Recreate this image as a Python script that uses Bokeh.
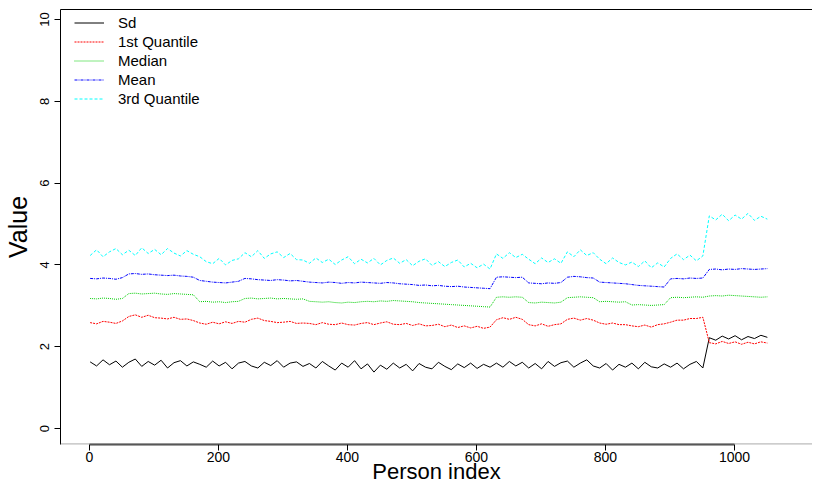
from bokeh.plotting import figure
from bokeh.models import Range1d, Span, Legend, LegendItem, FixedTicker, LinearAxis
from bokeh.embed import file_html
from bokeh.resources import INLINE

# Person index (sampled every 10 persons)
person = list(range(1, 1052, 10))

sd = [1.63, 1.53, 1.68, 1.56, 1.65, 1.50,
      1.62, 1.70, 1.52, 1.64, 1.55, 1.67, 1.48, 1.61, 1.66, 1.53, 1.63,
      1.57, 1.50, 1.65, 1.53, 1.62, 1.46, 1.60,
      1.64, 1.53, 1.48, 1.62, 1.54, 1.66, 1.50, 1.60, 1.63, 1.52,
      1.59, 1.48, 1.64, 1.53, 1.43, 1.60, 1.50, 1.66, 1.46, 1.58,
      1.38, 1.55, 1.45, 1.60, 1.48, 1.57, 1.41, 1.59, 1.50, 1.46,
      1.62, 1.52, 1.44, 1.58, 1.49, 1.60, 1.47, 1.57, 1.50,
      1.60, 1.50, 1.64, 1.53, 1.62,
      1.48, 1.59, 1.46, 1.64, 1.52, 1.61,
      1.65, 1.50, 1.60, 1.68, 1.53,
      1.48, 1.59, 1.43, 1.57, 1.50,
      1.60, 1.46, 1.62, 1.51, 1.48, 1.58,
      1.50, 1.60, 1.46, 1.57, 1.64, 1.48,
      2.22, 2.16, 2.26, 2.19, 2.27, 2.17, 2.25, 2.20, 2.28, 2.23]

q1 = [2.59, 2.56, 2.62, 2.60, 2.57, 2.63,
      2.74, 2.78, 2.72, 2.77, 2.71, 2.70, 2.68, 2.72, 2.67, 2.68, 2.64,
      2.58, 2.55, 2.60, 2.56, 2.61, 2.57, 2.62,
      2.60, 2.67, 2.70, 2.64, 2.62, 2.59, 2.60, 2.62, 2.57, 2.58,
      2.57, 2.54, 2.59, 2.55, 2.54, 2.58, 2.54, 2.53, 2.57, 2.59,
      2.54, 2.58, 2.61, 2.55, 2.54, 2.57, 2.52, 2.56, 2.51, 2.52,
      2.55, 2.49, 2.53, 2.47, 2.51, 2.46, 2.50, 2.45, 2.48,
      2.66, 2.71, 2.67, 2.72, 2.67,
      2.54, 2.51, 2.56, 2.50, 2.54, 2.56,
      2.67, 2.70, 2.65, 2.69, 2.65,
      2.58, 2.55, 2.58, 2.54, 2.54,
      2.51, 2.49, 2.53, 2.48, 2.54, 2.56,
      2.60, 2.65, 2.65, 2.69, 2.69, 2.72,
      2.10, 2.07, 2.13, 2.08, 2.12, 2.06, 2.11, 2.07, 2.12, 2.09]

median = [3.18, 3.17, 3.19, 3.18, 3.16, 3.18,
          3.30, 3.31, 3.29, 3.30, 3.31, 3.29, 3.28, 3.30, 3.29, 3.28, 3.27,
          3.10, 3.11, 3.09, 3.10, 3.08, 3.10, 3.11,
          3.18, 3.19, 3.17, 3.18, 3.19, 3.17, 3.18, 3.17, 3.16, 3.17,
          3.11, 3.10, 3.09, 3.10, 3.08, 3.07, 3.09, 3.08, 3.10, 3.11,
          3.10, 3.12, 3.11, 3.13, 3.12, 3.11, 3.10, 3.08, 3.07, 3.06,
          3.05, 3.04, 3.03, 3.02, 3.01, 3.00, 2.99, 2.98, 2.97,
          3.21, 3.22, 3.21, 3.22, 3.21,
          3.08, 3.07, 3.09, 3.08, 3.07, 3.09,
          3.20, 3.21, 3.22, 3.21, 3.20,
          3.10, 3.11, 3.10, 3.09, 3.10,
          3.02, 3.03, 3.02, 3.01, 3.02, 3.03,
          3.20, 3.21, 3.20, 3.21, 3.22, 3.21,
          3.24, 3.25, 3.24, 3.26, 3.25, 3.24, 3.23, 3.22, 3.21, 3.22]

mean = [3.67, 3.66, 3.68, 3.67, 3.65, 3.69,
        3.78, 3.79, 3.77, 3.78, 3.76, 3.75, 3.74, 3.75, 3.73, 3.72, 3.70,
        3.62, 3.60, 3.58, 3.57, 3.56, 3.58, 3.60,
        3.67, 3.66, 3.64, 3.63, 3.62, 3.64, 3.63, 3.61, 3.62, 3.60,
        3.58, 3.57, 3.56, 3.58, 3.57, 3.55, 3.57, 3.56, 3.58, 3.57,
        3.56, 3.55, 3.57, 3.56, 3.54, 3.53, 3.52, 3.50, 3.51, 3.49,
        3.50, 3.48, 3.47, 3.48, 3.46, 3.45, 3.44, 3.43, 3.42,
        3.70, 3.71, 3.70, 3.69, 3.70,
        3.56, 3.55, 3.54, 3.56, 3.55, 3.57,
        3.70, 3.72, 3.71, 3.69, 3.68,
        3.58, 3.57, 3.56, 3.55, 3.54,
        3.52, 3.50, 3.49, 3.48, 3.47, 3.46,
        3.66, 3.67, 3.66, 3.68, 3.67, 3.68,
        3.89, 3.90, 3.88, 3.90, 3.89, 3.91, 3.90, 3.89, 3.90, 3.91]

q3 = [4.23, 4.37, 4.20, 4.32, 4.40, 4.25,
      4.36, 4.23, 4.42, 4.28, 4.38, 4.25, 4.40, 4.29, 4.22, 4.35, 4.26,
      4.20, 4.08, 4.03, 4.16, 4.00, 4.11, 4.15,
      4.30, 4.20, 4.35, 4.16, 4.27, 4.32, 4.18, 4.28, 4.13, 4.12,
      4.04, 4.17, 4.06, 4.14, 4.01, 4.12, 4.20, 4.03, 4.14, 4.05,
      4.16, 4.00, 4.11, 4.17, 4.04, 4.13, 3.98, 4.09, 4.15, 3.99,
      4.08, 3.96, 4.06, 4.12, 3.95, 4.04, 3.93, 4.02, 3.90,
      4.27, 4.16, 4.30, 4.18, 4.26,
      4.14, 4.03, 4.17, 4.06, 4.15, 4.04,
      4.32, 4.20, 4.37, 4.23, 4.30,
      4.14, 4.03, 4.17, 4.06, 4.00,
      4.07, 3.96, 4.10, 3.93, 4.05, 3.95,
      4.16, 4.27, 4.13, 4.24, 4.10, 4.22,
      5.20, 5.10, 5.24, 5.08, 5.22, 5.12, 5.26, 5.09, 5.19, 5.12]

series_names = ["Sd", "1st Quantile", "Median", "Mean", "3rd Quantile"]
x_ticks = [0, 200, 400, 600, 800, 1000]
y_ticks = [0, 2, 4, 6, 8, 10]

FONT = "Liberation Sans"

p = figure(frame_width=752, frame_height=435, output_backend="svg",
           toolbar_location=None, min_border_left=49, min_border_right=0,
           min_border_top=9, min_border_bottom=34,
           x_range=Range1d(-44.96, 1121.0), y_range=Range1d(-0.39, 10.245))
p.background_fill_color = "white"
p.border_fill_color = "white"
p.outline_line_color = None
p.xgrid.visible = False
p.ygrid.visible = False

styles = [("black", None), ("#FF0000", "2 1"), ("#00CD00", "1 1"),
          ("#0000FF", "3 1 1 1"), ("#00FFFF", "3 2")]
data = [sd, q1, median, mean, q3]
items = []
for name, ys, (col, dash) in zip(series_names, data, styles):
    kw = dict(line_color=col, line_width=1)
    if dash:
        kw["line_dash"] = dash
    r = p.line(person, ys, **kw)
    items.append(LegendItem(label=name, renderers=[r]))

legend = Legend(items=items, location=(14, 336), border_line_color=None,
                background_fill_alpha=0, padding=5, margin=0, spacing=0,
                glyph_width=30, glyph_height=19, label_height=19,
                label_standoff=14, label_text_font=FONT,
                label_text_font_size="15px", label_text_color="black")
p.add_layout(legend, "center")

xa = p.below[0]
ya = p.left[0]

# top border of the plotting box
top = LinearAxis(ticker=FixedTicker(ticks=[]), major_label_text_font_size="0px",
                 major_tick_line_color=None, minor_tick_line_color=None,
                 major_tick_out=0, major_tick_in=0, minor_tick_out=0,
                 axis_line_color="black", axis_line_width=1)
p.add_layout(top, "above")

# axes
for ax in (xa, ya):
    ax.minor_tick_line_color = None
    ax.major_tick_in = 0
    ax.major_tick_out = 6
    ax.major_label_text_font = FONT
    ax.major_label_text_color = "black"
    ax.axis_label_text_font = FONT
    ax.axis_label_text_color = "black"
    ax.axis_label_text_font_style = "normal"
    ax.major_tick_line_color = "black"

xa.ticker = FixedTicker(ticks=x_ticks)
xa.bounds = (0, 1000)
xa.axis_line_color = "#444444"
xa.axis_line_width = 2
xa.major_label_text_font_size = "14px"
xa.axis_label = "Person index"
xa.axis_label_text_font_size = "22px"
xa.axis_label_standoff = -6
xa.major_label_standoff = 1

ya.ticker = FixedTicker(ticks=y_ticks)
ya.axis_line_color = "black"
ya.major_label_text_font_size = "13px"
ya.major_label_orientation = "vertical"
ya.axis_label = "Value"
ya.axis_label_text_font_size = "25px"
ya.axis_label_standoff = 6
ya.major_label_standoff = 5

# bottom border of the plotting box
p.add_layout(Span(location=-0.38, dimension="width", line_color="#888888", line_width=1))

open("out.html", "w").write(file_html(p, INLINE))
